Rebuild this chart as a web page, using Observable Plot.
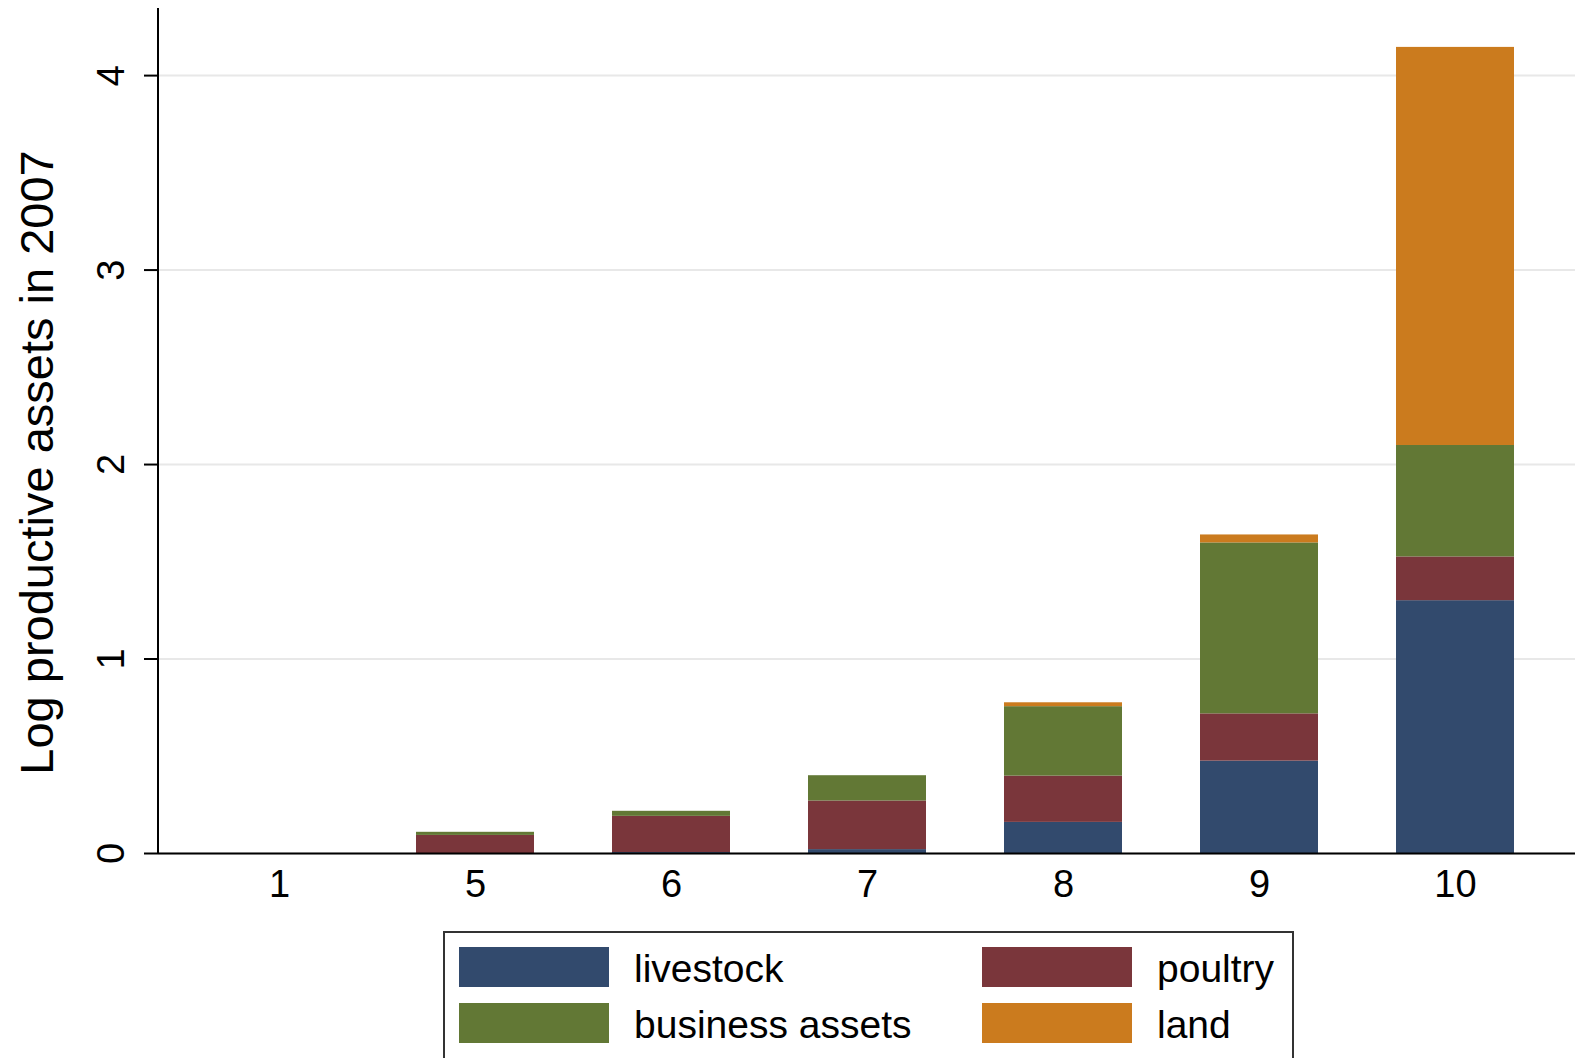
<!DOCTYPE html>
<html><head><meta charset="utf-8">
<script src="https://cdn.jsdelivr.net/npm/d3@7"></script>
<script src="https://cdn.jsdelivr.net/npm/@observablehq/plot@0.6"></script>
<style>
body{margin:0;background:#fff;font-family:"Liberation Sans",Arial,sans-serif;overflow:hidden}
#chart svg{display:block}
#legend{position:relative;margin-left:443px;width:851px;height:140px;border:2px solid #333;box-sizing:border-box;background:#fff}
.item{position:absolute;display:flex;align-items:center;height:40px;font-size:39px;color:#000}
.item span{position:relative;top:2px}
.sw{width:150px;height:40px;margin-right:25px}
</style></head><body><div id="chart"></div><div id="legend"></div>
<script>
const groups = ["1","5","6","7","8","9","10"];
const series = ["livestock","poultry","business assets","land"];
const colors = ["#324a6d","#7a363b","#627835","#cb7b1e"];
const livestock = [0, 0, 0.005, 0.02, 0.16, 0.475, 1.30];
const poultry   = [0, 0.093, 0.186, 0.25, 0.238, 0.243, 0.225];
const business  = [0, 0.016, 0.026, 0.13, 0.357, 0.879, 0.573];
const land      = [0, 0, 0, 0, 0.02, 0.041, 2.047];
const yTicks = [0, 1, 2, 3, 4];
const yLabel = "Log productive assets in 2007";

const valuesBySeries = [livestock, poultry, business, land];
const rows = [];
series.forEach((s, i) => groups.forEach((g, j) => rows.push({series: s, group: g, value: valuesBySeries[i][j]})));

const W = 1575, H = 931, mL = 158, mT = 8, mB = H - 853;

const yAxisLine = (index, scales, values, dims) => {
  const line = document.createElementNS("http://www.w3.org/2000/svg", "line");
  line.setAttribute("x1", dims.marginLeft); line.setAttribute("x2", dims.marginLeft);
  line.setAttribute("y1", dims.marginTop); line.setAttribute("y2", dims.height - dims.marginBottom);
  line.setAttribute("stroke", "#000"); line.setAttribute("stroke-width", 2);
  return line;
};

const chart = Plot.plot({
  width: W, height: H,
  marginLeft: mL, marginRight: 0, marginTop: mT, marginBottom: mB,
  style: {fontFamily: '"Liberation Sans", Arial, sans-serif', background: "white", color: "#000"},
  x: {domain: groups, paddingInner: 0.4, paddingOuter: 0.3075, label: null},
  y: {domain: [0, 4.345], label: null},
  color: {domain: series, range: colors},
  marks: [
    Plot.gridY(yTicks, {stroke: "#e8e8e8", strokeOpacity: 1, strokeWidth: 2}),
    Plot.barY(rows, {x: "group", y: "value", fill: "series"}),
    Plot.ruleY([0], {stroke: "#000", strokeWidth: 2}),
    Plot.axisY(yTicks, {tickSize: 14, tickRotate: -90, tickPadding: 21, fontSize: 38, strokeWidth: 2, tickFormat: d => String(d), label: null}),
    Plot.axisX({tickSize: 0, tickPadding: 17, fontSize: 38, label: null}),
    yAxisLine,
    Plot.text([yLabel], {frameAnchor: "left", textAnchor: "middle", rotate: -90, dx: -121, dy: 31.5, fontSize: 47, fill: "#000"})
  ]
});
document.getElementById("chart").appendChild(chart);

const legend = document.getElementById("legend");
const pos = [[14, 14], [537, 14], [14, 70], [537, 70]];
series.forEach((name, k) => {
  const it = document.createElement("div");
  it.className = "item";
  it.style.left = pos[k][0] + "px"; it.style.top = pos[k][1] + "px";
  const sw = document.createElement("div"); sw.className = "sw"; sw.style.background = colors[k];
  const tx = document.createElement("span"); tx.textContent = name;
  it.appendChild(sw); it.appendChild(tx);
  legend.appendChild(it);
});
</script></body></html>
